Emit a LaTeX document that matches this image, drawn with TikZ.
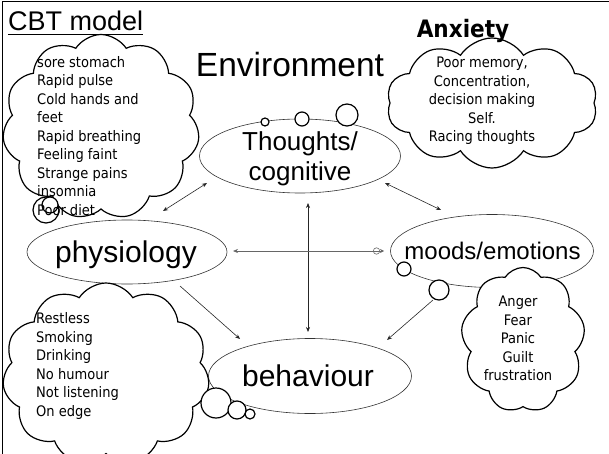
\documentclass[tikz,border=0pt]{standalone}
\usepackage{fontspec}
\setmainfont{Liberation Sans}
\newfontfamily\cloudfont{DejaVu Sans Condensed}
\usetikzlibrary{shapes.symbols,shapes.geometric,arrows.meta}
\begin{document}
\begin{tikzpicture}[x=1pt,y=-1pt,
  >={Stealth[length=5pt,width=4pt]},
  oval/.style={ellipse, draw=black!80, line width=0.6pt, inner sep=0pt},
  puff/.style={cloud, cloud puffs=#1, cloud puff arc=115, cloud ignores aspect, draw, fill=white, line width=1.2pt, inner sep=0pt},
  bub/.style={circle, draw, fill=white, line width=1.2pt, inner sep=0pt},
  ctext/.style={font=\cloudfont\fontsize{14.5}{18.5}\selectfont, inner sep=0pt},
  big/.style={font=\fontsize{#1}{#1}\selectfont, inner sep=0pt},
  link/.style={line width=0.6pt, draw=black!85}
]
\useasboundingbox (0,0) rectangle (609,454);
% frame
\draw[line width=1.8pt] (2.5,454) -- (2.5,1.5) -- (609,1.5);

% ellipses
\node[oval, minimum width=201pt, minimum height=74pt] (tho) at (300,156) {};
\node[oval, minimum width=200pt, minimum height=64pt] (phy) at (127,252) {};
\node[oval, minimum width=203pt, minimum height=73pt] (moo) at (492,251) {};
\node[oval, minimum width=203pt, minimum height=75pt] (beh) at (310,376) {};

% clouds
\node[puff=11, minimum width=197pt, minimum height=185pt] (c1) at (101,127) {};
\node[puff=10, minimum width=211pt, minimum height=130pt] (c2) at (492,103) {};
\node[puff=9, minimum width=124pt, minimum height=145pt] (c3) at (523,340) {};
\node[puff=11, minimum width=207pt, minimum height=182pt] (c4) at (106,374) {};

% thought bubbles
\node[bub, minimum size=8pt] (b1) at (265,122) {};
\node[bub, minimum size=14pt] (b2) at (302,119) {};
\node[bub, minimum size=22pt] (b3) at (347,115) {};
\node[bub, minimum size=26pt] (b4) at (46,210) {};
\node[bub, minimum size=16pt] (b5) at (50,205) {};
\node[bub, minimum size=14pt] (b6) at (404,269) {};
\node[bub, minimum size=20pt] (b7) at (439,290) {};
\node[bub, minimum size=30pt] (b8) at (216,403) {};
\node[bub, minimum size=18pt] (b9) at (237,410) {};
\node[bub, minimum size=10pt] (b10) at (250,414) {};

% title texts
\node[big=27, anchor=base west] (cbt) at (8,30.5) {CBT model};
\draw[line width=1.2pt] (cbt.south west) ++(0,3.5) -- ++(135,0);
\node[big=33.5, anchor=base] (env) at (290,77) {Environment};
\node[font=\cloudfont\bfseries\fontsize{24}{24}\selectfont, inner sep=0pt, anchor=base] (anx) at (463,37.3) {Anxiety};

% ellipse texts
\node[big=26, anchor=base] (thot) at (300,151) {Thoughts/};
\node[big=26, anchor=base] (thoc) at (300,181) {cognitive};
\node[big=30, anchor=base] (phyt) at (126,262) {physiology};
\node[big=24, anchor=base] (moot) at (492.5,259) {moods/emotions};
\node[big=30, anchor=base] (beht) at (308,386) {behaviour};

% cloud texts
\node[ctext, align=left, anchor=west] (t1) at (37,136) {sore stomach\\Rapid pulse\\Cold hands and\\feet\\Rapid breathing\\Feeling faint\\Strange pains\\insomnia\\Poor diet};
\node[ctext, align=center] (t2) at (482,101) {Poor memory,\\Concentration,\\decision making\\Self.\\Racing thoughts};
\node[ctext, align=center] (t3) at (518,338.5) {Anger\\Fear\\Panic\\Guilt\\frustration};
\node[ctext, align=left, anchor=west] (t4) at (36,366) {Restless\\Smoking\\Drinking\\No humour\\Not listening\\On edge};

% connectors
\coordinate (p1) at (163,211); \coordinate (q1) at (207,183);
\coordinate (p2) at (385,183); \coordinate (q2) at (441,210);
\coordinate (p3) at (308,203); \coordinate (q3) at (308,332);
\coordinate (p4) at (233,251); \coordinate (q4) at (384,251);
\coordinate (p5) at (180,286); \coordinate (q5) at (240,339);
\coordinate (p6) at (433,300); \coordinate (q6) at (387,340);
\draw[link,<->] (p1) -- (q1);
\draw[link,<->] (p2) -- (q2);
\draw[link,<->] (p3) -- (q3);
\draw[link,draw=black!60,{Stealth[length=5pt,width=4pt]}-{Circle[open,length=7pt,width=7pt]Stealth[length=4pt,width=4pt]}] (p4) -- (q4);
\draw[link,->] (p5) -- (q5);
\draw[link,->] (p6) -- (q6);
\end{tikzpicture}
\end{document}
